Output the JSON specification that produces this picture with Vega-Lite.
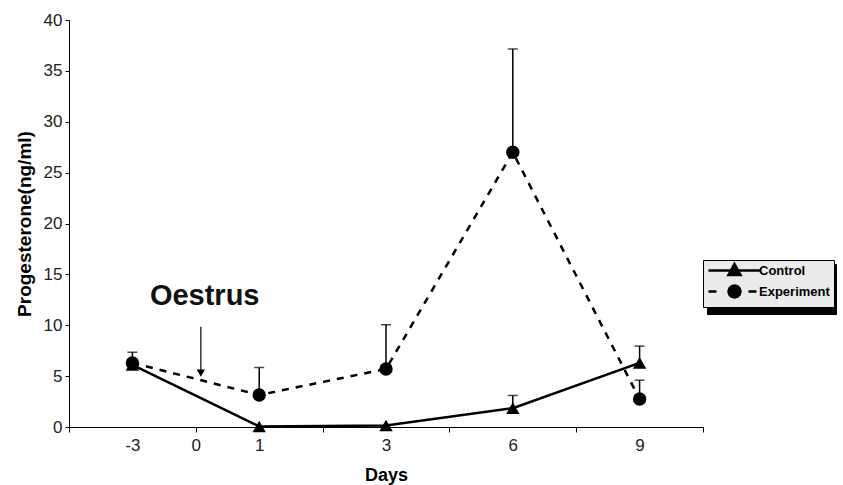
{
  "$schema": "https://vega.github.io/schema/vega-lite/v6.json",
  "width": 634,
  "height": 407,
  "autosize": {"type": "none"},
  "padding": {"left": 69, "top": 20, "right": 140, "bottom": 58},
  "config": {
    "view": {"stroke": null},
    "font": "Liberation Sans",
    "axis": {"grid": false, "domainColor": "#000", "tickColor": "#000", "labelColor": "#222", "titleColor": "#000", "labelFont": "Liberation Sans", "titleFont": "Liberation Sans"}
  },
  "datasets": {
    "series": [
      {"day": -3, "group": "Control", "mean": 6.1, "upper": null},
      {"day": 1, "group": "Control", "mean": 0.05, "upper": null},
      {"day": 3, "group": "Control", "mean": 0.15, "upper": null},
      {"day": 6, "group": "Control", "mean": 1.85, "upper": 3.1},
      {"day": 9, "group": "Control", "mean": 6.3, "upper": 7.95},
      {"day": -3, "group": "Experiment", "mean": 6.3, "upper": 7.35},
      {"day": 1, "group": "Experiment", "mean": 3.15, "upper": 5.85},
      {"day": 3, "group": "Experiment", "mean": 5.7, "upper": 10.05},
      {"day": 6, "group": "Experiment", "mean": 27.0, "upper": 37.15},
      {"day": 9, "group": "Experiment", "mean": 2.75, "upper": 4.6}
    ],
    "breaks": [{"day": -1.3}, {"day": -1.13}],
    "arrow": [{"day": 0.08, "top": 9.85, "bottom": 5.6, "tip": 5.3}],
    "note": [{"day": 0.14, "y": 12.9, "label": "Oestrus"}]
  },
  "encoding": {
    "x": {
      "field": "day",
      "type": "quantitative",
      "scale": {"domain": [-6, 0, 3, 10.5], "range": [0, 126.8, 317, 634], "zero": false, "nice": false},
      "axis": {
        "title": "Days",
        "titleFontSize": 18,
        "titleFontWeight": "bold",
        "titlePadding": 13,
        "values": [-6, -3, 0, 1, 2, 3, 4.5, 6, 7.5, 9, 10.5],
        "labelExpr": "datum.value == -3 ? '-3' : indexof([0,1,3,6,9], datum.value) >= 0 ? '' + datum.value : ''",
        "labelOverlap": false,
        "labelFlush": false,
        "labelFontSize": 17,
        "labelPadding": 5,
        "tickSize": 5,
        "tickOpacity": {"condition": {"test": "indexof([-3,1,3,6,9], datum.value) >= 0", "value": 0}, "value": 1}
      }
    },
    "y": {
      "field": "mean",
      "type": "quantitative",
      "scale": {"domain": [0, 40], "nice": false},
      "axis": {
        "title": "Progesterone(ng/ml)",
        "values": [0, 5, 10, 15, 20, 25, 30, 35, 40],
        "tickSize": 4,
        "labelFontSize": 17,
        "labelPadding": 3,
        "titleFontSize": 19,
        "titleFontWeight": "bold",
        "titlePadding": 9
      }
    }
  },
  "layer": [
    {
      "data": {"name": "series"},
      "transform": [{"filter": "datum.group == 'Experiment'"}],
      "mark": {"type": "line", "color": "black", "strokeWidth": 2.5, "strokeDash": [7, 7]}
    },
    {
      "data": {"name": "series"},
      "transform": [{"filter": "datum.group == 'Control'"}],
      "mark": {"type": "line", "strokeWidth": 2.5},
      "encoding": {
        "color": {
          "field": "group",
          "type": "nominal",
          "scale": {"domain": ["Control", "Experiment"], "range": ["black", "black"]},
          "legend": {
            "title": null,
            "orient": "none",
            "legendX": 634,
            "legendY": 240,
            "zindex": 2,
            "padding": 4,
            "fillColor": "#ebebeb",
            "strokeColor": "black",
            "labelFontSize": 13,
            "labelFontWeight": "bold",
            "labelColor": "black",
            "labelFont": "Liberation Sans",
            "labelOffset": 39,
            "rowPadding": 0,
            "symbolSize": 100,
            "encode": {
              "symbols": {
                "update": {
                  "shape": {"signal": "datum.value === 'Control' ? 'M-1,0H9.4M3,0.9L4.2,-1.3L5.4,0.9Z' : 'M-1,0H0.6M7,0H8.6M5.4,0L5.24,0.6L4.8,1.04L4.2,1.2L3.6,1.04L3.16,0.6L3,0L3.16,-0.6L3.6,-1.04L4.2,-1.2L4.8,-1.04L5.24,-0.6Z'"},
                  "strokeDash": {"value": [1, 0]},
                  "fill": {"value": "black"},
                  "stroke": {"value": "black"},
                  "strokeWidth": {"value": 2.5},
                  "size": {"value": 100}
                }
              }
            }
          }
        }
      }
    },
    {
      "data": {"name": "series"},
      "transform": [{"filter": "datum.upper != null"}],
      "mark": {"type": "rule", "color": "black", "strokeWidth": 1.5},
      "encoding": {
        "y2": {"field": "upper"}
      }
    },
    {
      "data": {"name": "series"},
      "transform": [{"filter": "datum.upper != null"}],
      "mark": {"type": "tick", "orient": "horizontal", "color": "black", "thickness": 1.5, "size": 10},
      "encoding": {
        "y": {"field": "upper", "type": "quantitative", "title": "Progesterone(ng/ml)"}
      }
    },
    {
      "data": {"name": "series"},
      "transform": [{"filter": "datum.group == 'Control'"}],
      "mark": {"type": "point", "shape": "triangle-up", "filled": true, "color": "black", "opacity": 1, "size": 180}
    },
    {
      "data": {"name": "series"},
      "transform": [{"filter": "datum.group == 'Experiment'"}],
      "mark": {"type": "point", "shape": "circle", "filled": true, "opacity": 1, "size": 180},
      "encoding": {
        "fill": {
          "field": "group",
          "type": "nominal",
          "scale": {"domain": ["Experiment", "Control"], "range": ["black", "black"]},
          "legend": {
            "title": null,
            "orient": "none",
            "legendX": 638,
            "legendY": 244,
            "zindex": 1,
            "padding": 4,
            "fillColor": "black",
            "strokeColor": "black",
            "labelFontSize": 13,
            "labelFontWeight": "bold",
            "labelColor": "black",
            "labelFont": "Liberation Sans",
            "labelExpr": "''",
            "labelOffset": 99.5,
            "rowPadding": 0,
            "symbolSize": 380
          }
        }
      }
    },
    {
      "data": {"name": "breaks"},
      "mark": {"type": "rule", "color": "black", "strokeWidth": 1.2},
      "encoding": {
        "y": {"datum": -0.45, "type": "quantitative", "title": "Progesterone(ng/ml)"},
        "y2": {"datum": 0.45}
      }
    },
    {
      "data": {"name": "arrow"},
      "mark": {"type": "rule", "color": "black", "strokeWidth": 1.2},
      "encoding": {
        "y": {"field": "top", "type": "quantitative", "title": "Progesterone(ng/ml)"},
        "y2": {"field": "bottom"}
      }
    },
    {
      "data": {"name": "arrow"},
      "mark": {"type": "point", "shape": "triangle-down", "filled": true, "color": "black", "opacity": 1, "size": 70},
      "encoding": {
        "y": {"field": "tip", "type": "quantitative", "title": "Progesterone(ng/ml)"}
      }
    },
    {
      "data": {"name": "note"},
      "mark": {"type": "text", "font": "Liberation Sans", "fontSize": 29, "fontWeight": "bold", "color": "#111", "baseline": "middle", "align": "center"},
      "encoding": {
        "y": {"field": "y", "type": "quantitative", "title": "Progesterone(ng/ml)"},
        "text": {"field": "label"}
      }
    }
  ]
}
